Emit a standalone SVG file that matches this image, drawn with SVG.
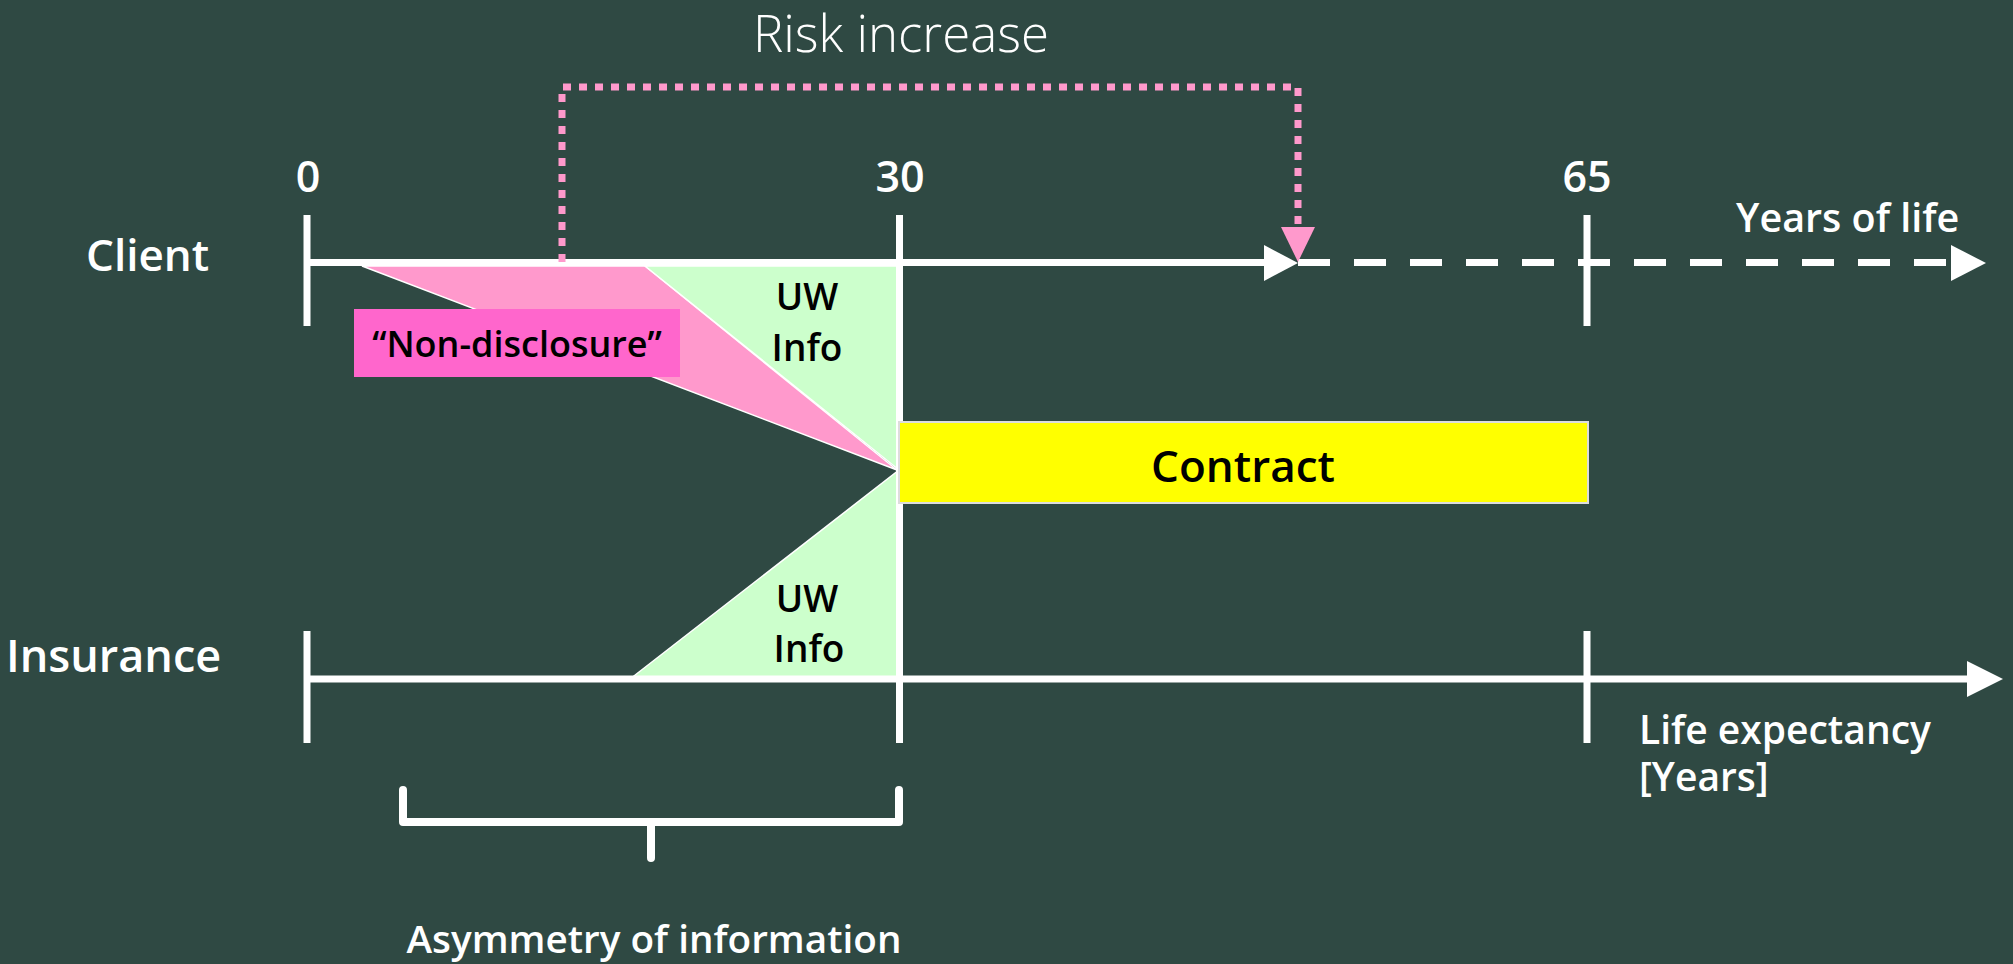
<svg xmlns="http://www.w3.org/2000/svg" width="2013" height="964" viewBox="0 0 2013 964">
<style>
.t{font-family:"Open Sans","Liberation Sans",Arial,sans-serif;fill:#ffffff;font-weight:600}
.k{font-family:"Open Sans","Liberation Sans",Arial,sans-serif;fill:#000000;font-weight:600}
.ax{stroke:#ffffff;stroke-width:7;fill:none}
.wh{fill:#ffffff}
.dot{stroke:#ff99cc;stroke-width:7;fill:none;stroke-dasharray:8 8}
</style>
<rect x="0" y="0" width="2013" height="964" fill="#2f4943"/>

<g id="nondisclosure-wedge">
<polygon points="362,266 645,266 897,470" fill="#ff99cc" stroke="#ffffff" stroke-width="1.5"/>
</g>
<g id="uw-info-client">
<polygon points="645,266 899,266 899,470" fill="#ccffcc" stroke="#ffffff" stroke-width="1.5"/>
<text class="k" font-size="37" text-anchor="middle"><tspan x="807" y="310">UW</tspan><tspan x="807" y="361">Info</tspan></text>
</g>
<g id="uw-info-insurance">
<polygon points="630,679 899,470 899,679" fill="#ccffcc" stroke="#ffffff" stroke-width="1.5"/>
<text class="k" font-size="37" text-anchor="middle"><tspan x="807" y="612">UW</tspan><tspan x="809" y="662">Info</tspan></text>
</g>
<g id="nondisclosure-label">
<rect x="354" y="309" width="326" height="68" fill="#ff66cc"/>
<text class="k" x="517" y="357" font-size="36" text-anchor="middle">“Non-disclosure”</text>
</g>

<g id="client-axis">
<line class="ax" x1="307" y1="262.5" x2="1266" y2="262.5"/>
<polygon class="wh" points="1264,245 1264,281 1298,263"/>
<line class="ax" x1="1298" y1="262.5" x2="1951" y2="262.5" stroke-width="8" stroke-dasharray="32 24"/>
<polygon class="wh" points="1951,245 1951,281 1986,263"/>
<line class="ax" x1="307" y1="215" x2="307" y2="326"/>
<line class="ax" x1="1587" y1="215" x2="1587" y2="326"/>
<text class="t" x="86" y="271" font-size="44">Client</text>
<text class="t" x="1736" y="232" font-size="39.5">Years of life</text>
</g>

<g id="year-30-line">
<line class="ax" x1="899.5" y1="215" x2="899.5" y2="743"/>
</g>

<g id="insurance-axis">
<line class="ax" x1="307" y1="679" x2="1969" y2="679"/>
<polygon class="wh" points="1967,661 1967,697 2003,679"/>
<line class="ax" x1="307" y1="631" x2="307" y2="743"/>
<line class="ax" x1="1587" y1="631" x2="1587" y2="743"/>
<text class="t" x="6" y="672" font-size="45">Insurance</text>
<text class="t" font-size="39"><tspan x="1639" y="744">Life expectancy</tspan><tspan x="1639" y="791">[Years]</tspan></text>
</g>

<g id="age-labels">
<text class="t" x="308" y="192" font-size="43" text-anchor="middle">0</text>
<text class="t" x="900" y="192" font-size="43" text-anchor="middle">30</text>
<text class="t" x="1587" y="192" font-size="43" text-anchor="middle">65</text>
</g>

<g id="contract">
<rect x="899" y="422" width="689" height="81" fill="#ffff00" stroke="#dddddd" stroke-width="2"/>
<text class="k" x="1243" y="482" font-size="44" text-anchor="middle">Contract</text>
</g>

<g id="connectors">
<path class="dot" d="M562,262 V87 H1298 V227"/>
<polygon points="1281,227 1315,227 1298,262" fill="#ff99cc"/>
</g>
<text id="risk-label" class="t" x="901" y="52" font-size="51" style="font-weight:300" text-anchor="middle">Risk increase</text>

<g id="asymmetry">
<path d="M403,790 V822 H899 V790 M651,822 V858" fill="none" stroke="#ffffff" stroke-width="8" stroke-linecap="round" stroke-linejoin="round"/>
<text class="t" x="654" y="953" font-size="38.7" text-anchor="middle">Asymmetry of information</text>
</g>
</svg>
